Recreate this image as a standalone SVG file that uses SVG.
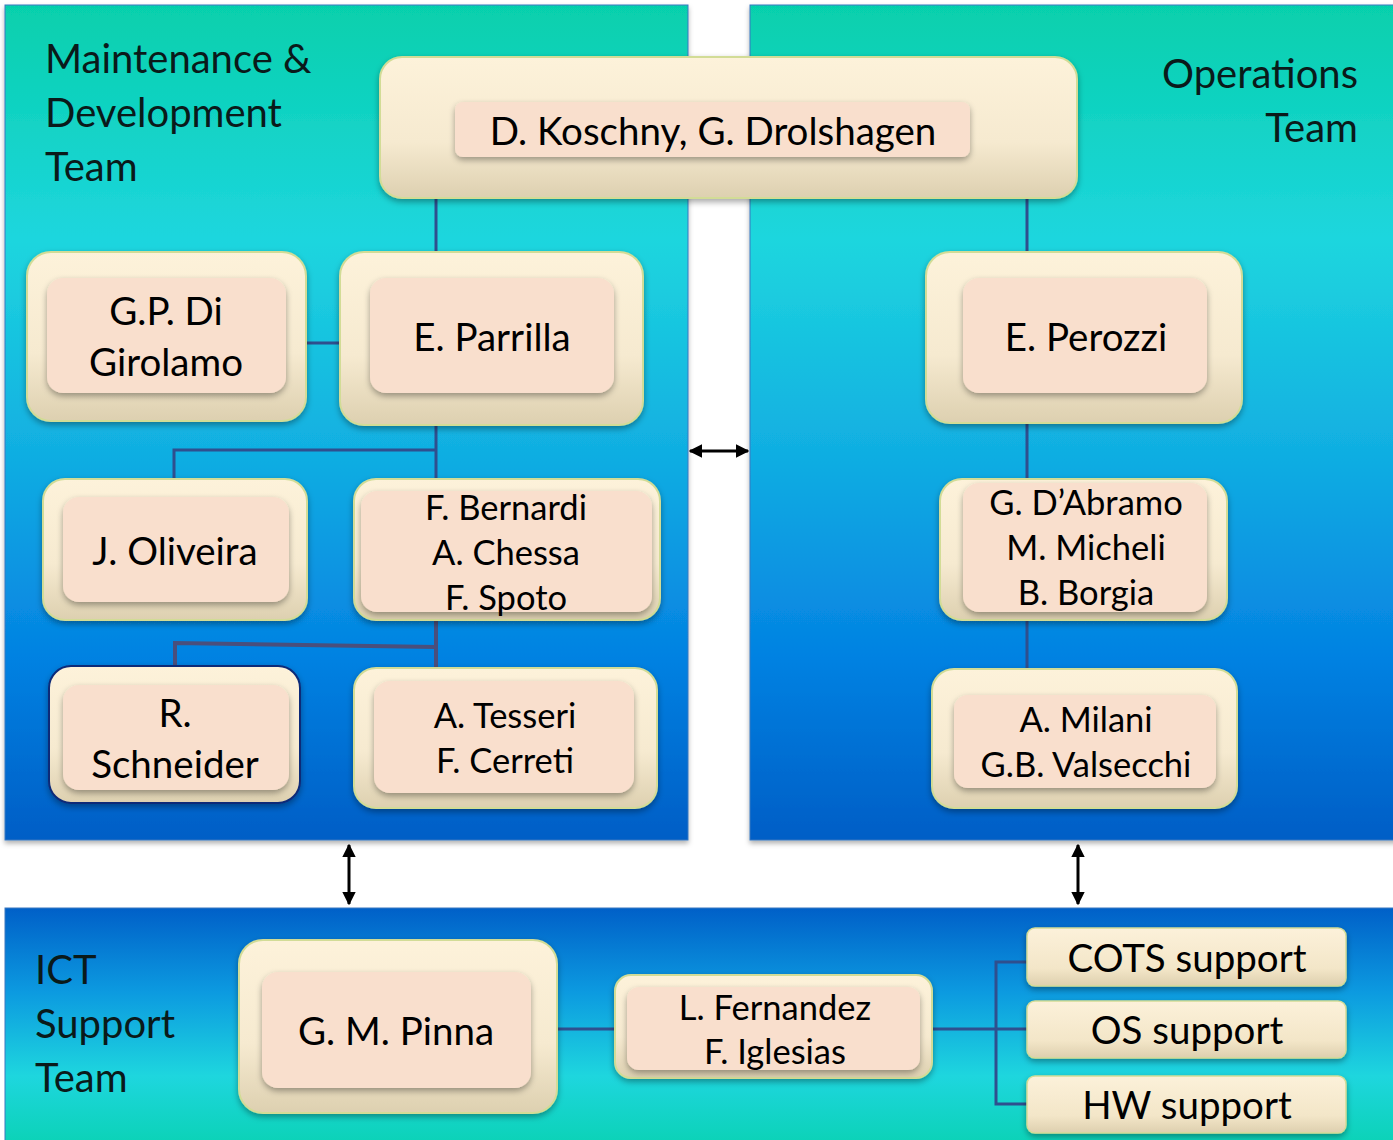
<svg xmlns="http://www.w3.org/2000/svg" width="1393" height="1140" viewBox="0 0 1393 1140">
  <defs>
    <linearGradient id="panelDown" x1="0" y1="0" x2="0" y2="1">
      <stop offset="0" stop-color="#06d0ac"/>
      <stop offset="0.28" stop-color="#1ed6de"/>
      <stop offset="0.55" stop-color="#10ace2"/>
      <stop offset="0.78" stop-color="#0482e2"/>
      <stop offset="1" stop-color="#005ec6"/>
    </linearGradient>
    <linearGradient id="panelUp" x1="0" y1="0" x2="0" y2="1">
      <stop offset="0" stop-color="#0060c8"/>
      <stop offset="0.35" stop-color="#0c9ae0"/>
      <stop offset="0.7" stop-color="#1ed6de"/>
      <stop offset="1" stop-color="#0ad2b4"/>
    </linearGradient>
    <linearGradient id="outerFill" x1="0" y1="0" x2="0" y2="1">
      <stop offset="0" stop-color="#fdf2da"/>
      <stop offset="0.6" stop-color="#f6ead0"/>
      <stop offset="1" stop-color="#ddd0b0"/>
    </linearGradient>
    <linearGradient id="chipFill" x1="0" y1="0" x2="0" y2="1">
      <stop offset="0" stop-color="#fcf1da"/>
      <stop offset="0.7" stop-color="#f3e6c8"/>
      <stop offset="1" stop-color="#ddcfae"/>
    </linearGradient>
    <filter id="shadow" x="-10%" y="-10%" width="120%" height="130%">
      <feDropShadow dx="0" dy="3" stdDeviation="3" flood-color="#000" flood-opacity="0.35"/>
    </filter>
    <filter id="panelShadow" x="-5%" y="-5%" width="110%" height="110%">
      <feDropShadow dx="0" dy="3" stdDeviation="2.5" flood-color="#000" flood-opacity="0.3"/>
    </filter>
    <marker id="arrow" viewBox="0 0 10 10" refX="9" refY="5" markerWidth="4.5" markerHeight="4.5" orient="auto-start-reverse">
      <path d="M0,0 L10,5 L0,10 z" fill="#000"/>
    </marker>
  </defs>
  <style>
    .panel { stroke: #3a78c0; stroke-width: 1; }
    .outer { fill: url(#outerFill); stroke: #d2dc96; stroke-width: 2; filter: url(#shadow); }
    .inner { fill: #f9dfcd; filter: url(#shadow); }
    .chip { fill: url(#chipFill); stroke: #d2dc96; stroke-width: 1.5; filter: url(#shadow); }
    .label { font-family: Lato, "Open Sans", "Liberation Sans", sans-serif; font-size: 38.5px; fill: #000; text-anchor: middle; }
    .label.small { font-size: 34.5px; }
    .title { font-family: Lato, "Open Sans", "Liberation Sans", sans-serif; font-size: 40px; fill: #0a1a1a; }
    .link { fill: none; stroke: #2f4f8e; stroke-width: 3; }
    .link2 { fill: none; stroke: #4a4f7c; stroke-width: 4; }
    .arrow { fill: none; stroke: #000; stroke-width: 3; marker-start: url(#arrow); marker-end: url(#arrow); }
  </style>

  <rect width="1393" height="1140" fill="#ffffff"/>

  <!-- team panels -->
  <g id="panel-maintenance">
    <rect class="panel" x="5" y="5" width="683" height="835" fill="url(#panelDown)" filter="url(#panelShadow)"/>
    <text class="title" x="45" y="73">Maintenance &amp;</text>
    <text class="title" x="45" y="127">Development</text>
    <text class="title" x="45" y="181">Team</text>
  </g>
  <g id="panel-operations">
    <rect class="panel" x="750" y="5" width="650" height="835" fill="url(#panelDown)" filter="url(#panelShadow)"/>
    <text class="title" x="1358" y="88" text-anchor="end">Operations</text>
    <text class="title" x="1358" y="142" text-anchor="end">Team</text>
  </g>
  <g id="panel-ict">
    <rect class="panel" x="5" y="908" width="1395" height="240" fill="url(#panelUp)"/>
    <text class="title" x="35" y="984">ICT</text>
    <text class="title" x="35" y="1038">Support</text>
    <text class="title" x="35" y="1092">Team</text>
  </g>

  <!-- connectors -->
  <g id="connectors">
    <path class="link" d="M436,198 V252"/>
    <path class="link" d="M1027,198 V252"/>
    <path class="link" d="M306,343 H340"/>
    <path class="link" d="M436,425 V479 M436,450 H174 V479"/>
    <path class="link2" d="M436,620 V668 M436,647 L175,643 V666"/>
    <path class="link" d="M1027,423 V479 M1027,620 V669"/>
    <path class="link" d="M557,1029 H615"/>
    <path class="link" d="M932,1029 H1027 M1027,962 H996 V1104 H1027"/>
    <path class="arrow" d="M690,451 H748"/>
    <path class="arrow" d="M349,845 V904"/>
    <path class="arrow" d="M1078,845 V904"/>
  </g>

  <!-- heads -->
  <g id="node-koschny">
    <rect class="outer" x="380" y="57" width="697" height="141" rx="22"/>
    <rect class="inner" x="455" y="102" width="515" height="55" rx="8"/>
    <text class="label" x="713" y="145">D. Koschny, G. Drolshagen</text>
  </g>

  <!-- maintenance & development -->
  <g id="node-digirolamo">
    <rect class="outer" x="27" y="252" width="279" height="169" rx="24"/>
    <rect class="inner" x="47" y="278" width="239" height="115" rx="16"/>
    <text class="label" x="166" y="325">G.P. Di</text>
    <text class="label" x="166" y="376">Girolamo</text>
  </g>
  <g id="node-parrilla">
    <rect class="outer" x="340" y="252" width="303" height="173" rx="24"/>
    <rect class="inner" x="370" y="278" width="244" height="115" rx="16"/>
    <text class="label" x="492" y="351">E. Parrilla</text>
  </g>
  <g id="node-oliveira">
    <rect class="outer" x="43" y="479" width="264" height="141" rx="22"/>
    <rect class="inner" x="63" y="497" width="226" height="105" rx="16"/>
    <text class="label" x="175" y="565">J. Oliveira</text>
  </g>
  <g id="node-bernardi">
    <rect class="outer" x="354" y="479" width="306" height="141" rx="22"/>
    <rect class="inner" x="361" y="491" width="291" height="121" rx="16"/>
    <text class="label small" x="506" y="520">F. Bernardi</text>
    <text class="label small" x="506" y="565">A. Chessa</text>
    <text class="label small" x="506" y="610">F. Spoto</text>
  </g>
  <g id="node-schneider">
    <rect class="outer" x="49" y="666" width="251" height="137" rx="22" style="stroke:#0c2a78"/>
    <rect class="inner" x="63" y="685" width="226" height="105" rx="16"/>
    <text class="label" x="175" y="727">R.</text>
    <text class="label" x="175" y="778">Schneider</text>
  </g>
  <g id="node-tesseri">
    <rect class="outer" x="354" y="668" width="303" height="140" rx="22"/>
    <rect class="inner" x="374" y="681" width="260" height="112" rx="16"/>
    <text class="label small" x="505" y="728">A. Tesseri</text>
    <text class="label small" x="505" y="773">F. Cerreti</text>
  </g>

  <!-- operations -->
  <g id="node-perozzi">
    <rect class="outer" x="926" y="252" width="316" height="171" rx="24"/>
    <rect class="inner" x="963" y="278" width="244" height="115" rx="16"/>
    <text class="label" x="1086" y="351">E. Perozzi</text>
  </g>
  <g id="node-dabramo">
    <rect class="outer" x="940" y="479" width="287" height="141" rx="22"/>
    <rect class="inner" x="963" y="483" width="244" height="129" rx="16"/>
    <text class="label small" x="1086" y="515">G. D’Abramo</text>
    <text class="label small" x="1086" y="560">M. Micheli</text>
    <text class="label small" x="1086" y="605">B. Borgia</text>
  </g>
  <g id="node-milani">
    <rect class="outer" x="932" y="669" width="305" height="139" rx="22"/>
    <rect class="inner" x="954" y="695" width="262" height="93" rx="14"/>
    <text class="label small" x="1086" y="732">A. Milani</text>
    <text class="label small" x="1086" y="777">G.B. Valsecchi</text>
  </g>

  <!-- ICT support -->
  <g id="node-pinna">
    <rect class="outer" x="239" y="940" width="318" height="173" rx="24"/>
    <rect class="inner" x="262" y="972" width="269" height="116" rx="16"/>
    <text class="label" x="396" y="1045">G. M. Pinna</text>
  </g>
  <g id="node-fernandez">
    <rect class="outer" x="615" y="975" width="317" height="103" rx="16"/>
    <rect class="inner" x="627" y="987" width="293" height="83" rx="12"/>
    <text class="label small" x="775" y="1020">L. Fernandez</text>
    <text class="label small" x="775" y="1064">F. Iglesias</text>
  </g>
  <g id="node-cots">
    <rect class="chip" x="1027" y="928" width="319" height="58" rx="8"/>
    <text class="label" x="1187" y="972">COTS support</text>
  </g>
  <g id="node-os">
    <rect class="chip" x="1027" y="1001" width="319" height="57" rx="8"/>
    <text class="label" x="1187" y="1044">OS support</text>
  </g>
  <g id="node-hw">
    <rect class="chip" x="1027" y="1076" width="319" height="57" rx="8"/>
    <text class="label" x="1187" y="1119">HW support</text>
  </g>
</svg>
